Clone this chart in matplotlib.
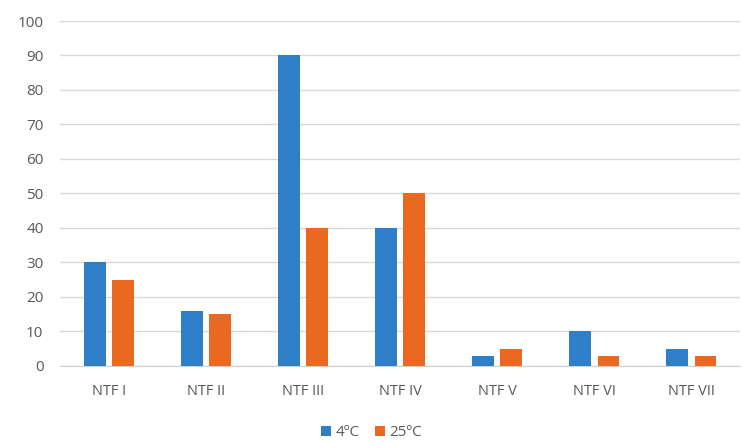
import matplotlib
matplotlib.use("Agg")
import matplotlib.pyplot as plt
import numpy as np

categories = ["NTF I", "NTF II", "NTF III", "NTF IV", "NTF V", "NTF VI", "NTF VII"]
series_names = ["4ºC", "25ºC"]
vals_4c = [30, 16, 90, 40, 3, 10, 5]
vals_25c = [25, 15, 40, 50, 5, 3, 3]
yticks = [0, 10, 20, 30, 40, 50, 60, 70, 80, 90, 100]

plt.rcParams['font.family'] = ['Open Sans', 'DejaVu Sans']

fig = plt.figure(figsize=(7.43, 4.44), dpi=100)
ax = fig.add_axes([0.081, 0.1757, 0.915, 0.777])

x = np.arange(len(categories))
w = 0.225
off = 0.145
b1 = ax.bar(x - off, vals_4c, width=w, color="#2E7FC8", label=series_names[0], zorder=3)
b2 = ax.bar(x + off, vals_25c, width=w, color="#E8691F", label=series_names[1], zorder=3)

ax.set_xlim(-0.5, len(categories) - 0.5)
ax.set_ylim(0, 100)
ax.set_yticks(yticks)
ax.set_xticks(x)
ax.set_xticklabels(categories)
ax.yaxis.grid(True, color="#D9D9D9", linewidth=1.0, zorder=0)
ax.set_axisbelow(True)
for s in ["top", "right", "left"]:
    ax.spines[s].set_visible(False)
ax.spines["bottom"].set_color("#D0D0D0")
ax.tick_params(axis="both", length=0, colors="#595959")
ax.tick_params(axis="x", pad=13, labelsize=10.5)
ax.tick_params(axis="y", pad=12, labelsize=11)

fig.legend(handles=[b1, b2], labels=series_names, loc="center", bbox_to_anchor=(0.5, 0.025),
           ncol=2, frameon=False, fontsize=11, labelcolor="#595959",
           handlelength=0.65, handleheight=0.65, handletextpad=0.3, columnspacing=1.0)

fig.savefig("out.png", dpi=100)
